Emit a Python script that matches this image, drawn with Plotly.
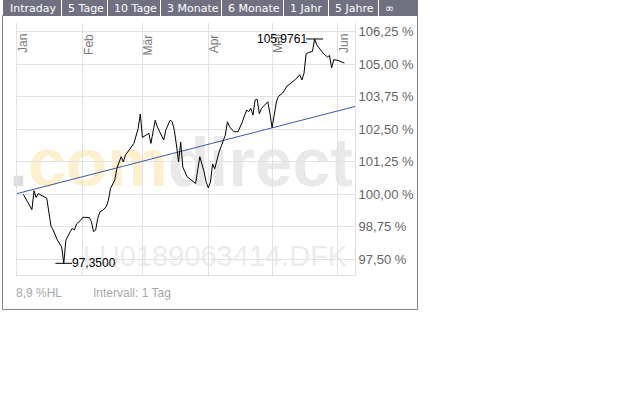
import plotly.graph_objects as go

W, H = 640, 400

# ---- data ----
dates = [
    "2007-01-04", "2007-01-08", "2007-01-09", "2007-01-10", "2007-01-11", "2007-01-13",
    "2007-01-15", "2007-01-17", "2007-01-18", "2007-01-20", "2007-01-22", "2007-01-23",
    "2007-01-24", "2007-01-26", "2007-01-27", "2007-01-28", "2007-01-29", "2007-01-31",
    "2007-02-01", "2007-02-04", "2007-02-05", "2007-02-06", "2007-02-07", "2007-02-08",
    "2007-02-09", "2007-02-10", "2007-02-12", "2007-02-13", "2007-02-14", "2007-02-16",
    "2007-02-17", "2007-02-19", "2007-02-20", "2007-02-21", "2007-02-24", "2007-02-25",
    "2007-02-27", "2007-02-28",
    "2007-03-01", "2007-03-03", "2007-03-04", "2007-03-05", "2007-03-07", "2007-03-08",
    "2007-03-11", "2007-03-12", "2007-03-14", "2007-03-15", "2007-03-16", "2007-03-17",
    "2007-03-18", "2007-03-19", "2007-03-20", "2007-03-22", "2007-03-24", "2007-03-26",
    "2007-03-28", "2007-03-30", "2007-03-31",
    "2007-04-01", "2007-04-02", "2007-04-03", "2007-04-04", "2007-04-06", "2007-04-08",
    "2007-04-09", "2007-04-10", "2007-04-11", "2007-04-13", "2007-04-15", "2007-04-17",
    "2007-04-18", "2007-04-19", "2007-04-20", "2007-04-21", "2007-04-22", "2007-04-23",
    "2007-04-24", "2007-04-25", "2007-04-26", "2007-04-28", "2007-04-29", "2007-04-30",
    "2007-05-01", "2007-05-02", "2007-05-03", "2007-05-04", "2007-05-06", "2007-05-08",
    "2007-05-10", "2007-05-12", "2007-05-14", "2007-05-15", "2007-05-16", "2007-05-17",
    "2007-05-18", "2007-05-20", "2007-05-21", "2007-05-22", "2007-05-25", "2007-05-27",
    "2007-05-28", "2007-05-29", "2007-05-30", "2007-06-01", "2007-06-04",
]
values = [
    100.00, 99.41, 100.14, 99.88, 100.03, 99.93,
    99.85, 98.78, 98.63, 98.24, 97.98, 97.35,
    98.24, 98.56, 98.69, 98.63, 98.86, 99.01,
    99.12, 99.11, 98.95, 98.57, 98.63, 99.08,
    99.33, 99.37, 99.52, 99.78, 100.23, 100.55,
    101.00, 101.45, 101.25, 101.51, 101.83, 101.96,
    102.54, 103.09,
    102.19, 102.28, 102.35, 101.96, 102.85, 102.60,
    102.09, 102.47, 102.85, 102.79, 102.47, 101.90,
    101.25, 102.01, 101.05, 100.68, 100.55, 100.42,
    101.45, 100.87, 100.47,
    100.25, 100.47, 101.17, 100.98, 101.61, 102.06,
    102.28, 102.79, 102.60, 102.41, 102.41, 102.79,
    102.98, 103.24, 103.18, 103.31, 103.05, 103.63,
    103.65, 103.10, 103.31, 103.50, 103.56, 103.10,
    102.57, 103.05, 103.55, 103.77, 103.90, 104.16,
    104.29, 104.42, 104.60, 104.40, 104.65, 105.40,
    105.45, 105.50, 105.9761, 105.75, 105.43, 105.28,
    105.34, 104.86, 105.18, 105.15, 105.05,
]
trend_dates = ["2007-01-01", "2007-06-09"]
trend_values = [100.03, 103.38]

month_ticks = ["2007-01-01", "2007-02-01", "2007-03-01", "2007-04-01", "2007-05-01", "2007-06-01"]
month_labels = ["Jan", "Feb", "Mär", "Apr", "Mai", "Jun"]
y_ticks = [97.5, 98.75, 100.0, 101.25, 102.5, 103.75, 105.0, 106.25]
y_labels = ["97,50 %", "98,75 %", "100,00 %", "101,25 %", "102,50 %", "103,75 %", "105,00 %", "106,25 %"]
tabs = ["Intraday", "5 Tage", "10 Tage", "3 Monate", "6 Monate", "1 Jahr", "5 Jahre", "\u221e"]
hl_text = "8,9 %HL"
interval_text = "Intervall: 1 Tag"
isin = "LU0189063414.DFK"

# ---- layout geometry (pixels) ----
tab_edges = [3, 61, 107, 160, 221, 283, 328, 378, 418]
PL, PR, PT, PB = 17, 355, 23, 275
x_range = ["2007-01-01", "2007-06-09"]
y_range = [96.90, 106.59]

def px(x):
    return x / W

def py(y):
    return 1 - y / H

FONT = "Liberation Sans, Arial, sans-serif"
TABFONT = "DejaVu Sans, Verdana, sans-serif"
GRID = "#e2e2e2"

fig = go.Figure()

fig.add_trace(go.Scatter(x=trend_dates, y=trend_values, mode="lines",
                         line=dict(color="#3b5ba5", width=1), hoverinfo="skip"))
fig.add_trace(go.Scatter(x=dates, y=values, mode="lines",
                         line=dict(color="#000000", width=1)))

i_max = values.index(max(values))
i_min = values.index(min(values))
fig.add_trace(go.Scatter(x=[dates[i_max], dates[i_min]], y=[values[i_max], values[i_min]],
                         mode="markers",
                         marker=dict(symbol="line-ew", size=12, color="#000",
                                     line=dict(color="#000", width=1))))

def fmt(v):
    return f"{v:.4f}".replace(".", ",")

shapes = []
annotations = []

# watermark (below grid and traces)
shapes.append(dict(type="rect", xref="paper", yref="paper",
                   x0=px(15), x1=px(347), y0=py(189), y1=py(123),
                   line=dict(width=0), fillcolor="rgba(0,0,0,0)", layer="below",
                   label=dict(text='<b><span style="color:#dcdcdc">.</span>'
                                   '<span style="color:#fdf0cf">com</span>'
                                   '<span style="color:#e9e9e9">direct</span></b>',
                              font=dict(family=FONT, size=68, color="#e9e9e9"),
                              textposition="middle center")))
shapes.append(dict(type="rect", xref="paper", yref="paper",
                   x0=px(80), x1=px(350), y0=py(268), y1=py(238),
                   line=dict(width=0), fillcolor="rgba(0,0,0,0)", layer="below",
                   label=dict(text=isin, font=dict(family=FONT, size=29, color="#ececec"),
                              textposition="middle center")))

# frame
shapes.append(dict(type="rect", xref="paper", yref="paper",
                   x0=px(2.5), x1=px(417.5), y0=py(309.5), y1=py(15.5),
                   line=dict(color="#858585", width=1), fillcolor="rgba(0,0,0,0)"))
# tab bar
shapes.append(dict(type="rect", xref="paper", yref="paper",
                   x0=px(tab_edges[0]), x1=px(tab_edges[-1]), y0=py(16), y1=py(0),
                   line=dict(width=0), fillcolor="#707080"))
for e in tab_edges[1:-1]:
    shapes.append(dict(type="line", xref="paper", yref="paper",
                       x0=px(e + 0.5), x1=px(e + 0.5), y0=py(16), y1=py(0),
                       line=dict(color="#ffffff", width=1)))
for t, e in zip(tabs, tab_edges[:-1]):
    annotations.append(dict(text=t, xref="paper", yref="paper", x=px(e + 5), y=py(8),
                            xanchor="left", yanchor="middle", showarrow=False,
                            font=dict(family=TABFONT, size=11, color="#ffffff")))

# month labels (rotated, inside the plot at the top)
for m, lab in zip(month_ticks, month_labels):
    annotations.append(dict(text=lab, x=m, xref="x", y=py(32), yref="paper",
                            xanchor="center", yanchor="top", xshift=6.5, textangle=-90,
                            showarrow=False, font=dict(family=FONT, size=12, color="#7a7a7a")))

# min / max labels
annotations.append(dict(text=fmt(values[i_max]), x=dates[i_max], y=values[i_max],
                        xref="x", yref="y", xanchor="right", yanchor="middle", xshift=-6,
                        showarrow=False, font=dict(family=FONT, size=12, color="#000")))
annotations.append(dict(text=fmt(values[i_min]), x=dates[i_min], y=values[i_min],
                        xref="x", yref="y", xanchor="left", yanchor="middle", xshift=6,
                        showarrow=False, font=dict(family=FONT, size=12, color="#000")))

# footer texts
annotations.append(dict(text=hl_text, xref="paper", yref="paper", x=px(14), y=py(293),
                        xanchor="left", yanchor="middle", showarrow=False,
                        font=dict(family=FONT, size=12, color="#a8a8a8")))
annotations.append(dict(text=interval_text, xref="paper", yref="paper", x=px(91), y=py(293),
                        xanchor="left", yanchor="middle", showarrow=False,
                        font=dict(family=FONT, size=12, color="#a8a8a8")))

fig.update_layout(
    width=W, height=H,
    margin=dict(l=0, r=0, t=0, b=0, pad=0),
    paper_bgcolor="#ffffff", plot_bgcolor="#ffffff",
    showlegend=False,
    shapes=shapes, annotations=annotations,
    xaxis=dict(type="date", range=x_range, domain=[px(PL), px(PR)],
               tickvals=month_ticks, showticklabels=False, ticks="",
               showgrid=True, gridcolor=GRID, gridwidth=1, zeroline=False,
               showline=True, linecolor=GRID, linewidth=1, mirror=False,
               automargin=False, fixedrange=True),
    yaxis=dict(range=y_range, domain=[py(PB), py(PT)], side="right",
               tickvals=y_ticks, ticktext=y_labels, ticks="",
               tickfont=dict(family=FONT, size=13, color="#666666"),
               showgrid=True, gridcolor=GRID, gridwidth=1, zeroline=False,
               showline=True, linecolor=GRID, linewidth=1, mirror=True,
               automargin=False, fixedrange=True),
)

fig.write_html("out.html", config={"displayModeBar": False},
               post_script="document.body.style.margin='0';document.body.style.overflow='hidden';")
